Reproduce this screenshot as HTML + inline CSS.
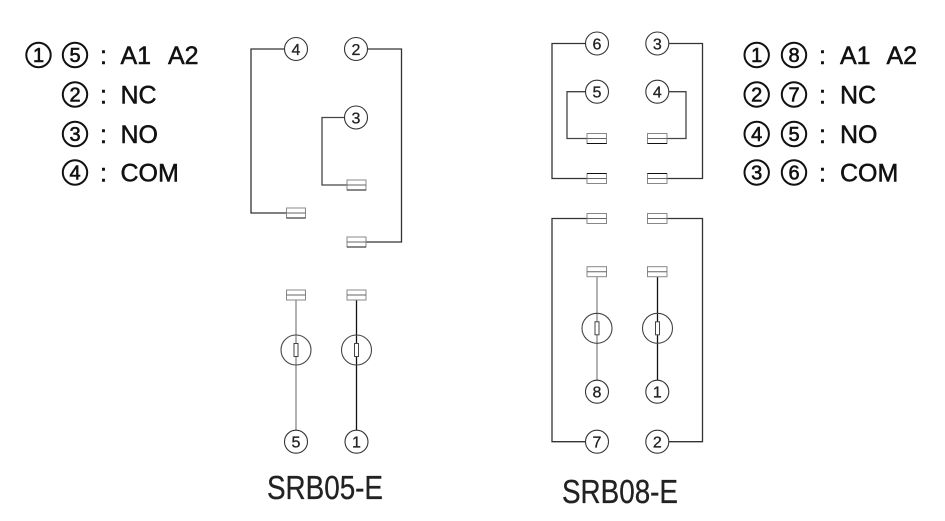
<!DOCTYPE html>
<html>
<head>
<meta charset="utf-8">
<style>
html,body{margin:0;padding:0;background:#fff;}
svg{display:block;}
text{font-family:"Liberation Sans",Arial,sans-serif;}
</style>
</head>
<body>
<svg width="945" height="521" viewBox="0 0 945 521" xmlns="http://www.w3.org/2000/svg">
<rect width="945" height="521" fill="#fff"/>

<!-- Left legend -->
<g fill="none" stroke="#111" stroke-width="2">
  <circle cx="38.5" cy="55" r="12.2"/>
  <circle cx="75" cy="55" r="12.2"/>
  <circle cx="75" cy="94.5" r="12.2"/>
  <circle cx="75" cy="134" r="12.2"/>
  <circle cx="75" cy="172.5" r="12.2"/>
</g>
<g font-size="20" fill="#111" stroke="#111" stroke-width="0.6" text-anchor="middle">
  <text x="38.5" y="62">1</text>
  <text x="75" y="62">5</text>
  <text x="75" y="101.5">2</text>
  <text x="75" y="141">3</text>
  <text x="75" y="179.5">4</text>
</g>
<g font-size="25" fill="#111" stroke="#111" stroke-width="0.5">
  <text x="100" y="64">:</text>
  <text x="120.5" y="64">A1</text>
  <text x="168" y="64">A2</text>
  <text x="100" y="103.5">:</text>
  <text x="120.5" y="103.5">NC</text>
  <text x="100" y="143">:</text>
  <text x="120.5" y="143">NO</text>
  <text x="100" y="181.5">:</text>
  <text x="120.5" y="181.5">COM</text>
</g>

<!-- Right legend -->
<g fill="none" stroke="#111" stroke-width="2">
  <circle cx="756.7" cy="55" r="12.2"/>
  <circle cx="794" cy="55" r="12.2"/>
  <circle cx="756.7" cy="94.5" r="12.2"/>
  <circle cx="794" cy="94.5" r="12.2"/>
  <circle cx="756.7" cy="134" r="12.2"/>
  <circle cx="794" cy="134" r="12.2"/>
  <circle cx="756.7" cy="172.5" r="12.2"/>
  <circle cx="794" cy="172.5" r="12.2"/>
</g>
<g font-size="20" fill="#111" stroke="#111" stroke-width="0.6" text-anchor="middle">
  <text x="756.7" y="62">1</text>
  <text x="794" y="62">8</text>
  <text x="756.7" y="101.5">2</text>
  <text x="794" y="101.5">7</text>
  <text x="756.7" y="141">4</text>
  <text x="794" y="141">5</text>
  <text x="756.7" y="179.5">3</text>
  <text x="794" y="179.5">6</text>
</g>
<g font-size="25" fill="#111" stroke="#111" stroke-width="0.5">
  <text x="819" y="64">:</text>
  <text x="840" y="64">A1</text>
  <text x="886.5" y="64">A2</text>
  <text x="819" y="103.5">:</text>
  <text x="840" y="103.5">NC</text>
  <text x="819" y="143">:</text>
  <text x="840" y="143">NO</text>
  <text x="819" y="181.5">:</text>
  <text x="840" y="181.5">COM</text>
</g>

<!-- ================= SRB05-E ================= -->
<g fill="none" stroke-width="1.3">
  <path d="M284.5 49 H251 V213 H286.5" stroke="#333"/>
  <path d="M344.5 117.5 H322 V185 H347" stroke="#444"/>
  <path d="M367.5 49 H401.5 V242 H366" stroke="#333"/>
  <path d="M296 300 V430" stroke="#888"/>
  <path d="M356.5 300 V430" stroke="#111"/>
</g>
<g fill="#fff" stroke="#333" stroke-width="1.1">
  <circle cx="296" cy="49" r="11.5"/>
  <circle cx="356" cy="49" r="11.5"/>
  <circle cx="356" cy="117.5" r="11.5"/>
  <circle cx="296" cy="441.7" r="11.5"/>
  <circle cx="356.5" cy="441.7" r="11.5"/>
</g>
<g font-size="16" fill="#222" stroke="#222" stroke-width="0.3" text-anchor="middle">
  <text x="296" y="54.8">4</text>
  <text x="356" y="54.8">2</text>
  <text x="356" y="123.3">3</text>
  <text x="296" y="447.5">5</text>
  <text x="356.5" y="447.5">1</text>
</g>
<g fill="#fff" stroke="#888" stroke-width="1">
  <rect x="286.5" y="208" width="19" height="10"/>
  <rect x="347" y="180" width="19" height="10"/>
  <rect x="347" y="237" width="19" height="10"/>
  <rect x="286.5" y="290" width="19" height="10"/>
  <rect x="347" y="290" width="19" height="10"/>
</g>
<g stroke="#666" stroke-width="1">
  <path d="M286.5 213 H305.5 M347 185 H366 M347 242 H366 M286.5 295 H305.5 M347 295 H366"/>
</g>
<g stroke="#111" stroke-width="1.1">
  <path d="M286.5 218 H305.5 M347 190 H366 M347 247 H366"/>
</g>
<g fill="none" stroke="#444" stroke-width="1.1">
  <circle cx="296" cy="350" r="15"/>
  <circle cx="356.5" cy="350" r="15"/>
</g>
<g fill="#fff" stroke="#444" stroke-width="1">
  <rect x="294" y="343.5" width="4" height="13"/>
  <rect x="354.5" y="343.5" width="4" height="13"/>
</g>
<text x="267" y="499" font-size="33" fill="#222" stroke="#222" stroke-width="0.3" textLength="116" lengthAdjust="spacingAndGlyphs">SRB05-E</text>

<!-- ================= SRB08-E ================= -->
<g fill="none" stroke-width="1.3">
  <path d="M585.5 43.5 H552 V178.5 H587" stroke="#333"/>
  <path d="M668.5 43.5 H702.5 V178.5 H667.5" stroke="#333"/>
  <path d="M585.5 91.7 H567 V138.5 H587" stroke="#444"/>
  <path d="M668.5 91.7 H686 V138.5 H667.5" stroke="#444"/>
  <path d="M587 218.5 H552 V441.7 H585.5" stroke="#333"/>
  <path d="M667.5 218.5 H702.5 V441.7 H668.5" stroke="#333"/>
  <path d="M597 276.7 V380" stroke="#888"/>
  <path d="M657.5 276.7 V380" stroke="#111"/>
</g>
<g fill="#fff" stroke="#333" stroke-width="1.1">
  <circle cx="597" cy="43.5" r="11.5"/>
  <circle cx="657.3" cy="43.5" r="11.5"/>
  <circle cx="597" cy="91.7" r="11.5"/>
  <circle cx="657.3" cy="91.7" r="11.5"/>
  <circle cx="597" cy="391.7" r="11.5"/>
  <circle cx="657.3" cy="391.7" r="11.5"/>
  <circle cx="597" cy="441.7" r="11.5"/>
  <circle cx="657.3" cy="441.7" r="11.5"/>
</g>
<g font-size="16" fill="#222" stroke="#222" stroke-width="0.3" text-anchor="middle">
  <text x="597" y="49.3">6</text>
  <text x="657.3" y="49.3">3</text>
  <text x="597" y="97.5">5</text>
  <text x="657.3" y="97.5">4</text>
  <text x="597" y="397.5">8</text>
  <text x="657.3" y="397.5">1</text>
  <text x="597" y="447.5">7</text>
  <text x="657.3" y="447.5">2</text>
</g>
<g fill="#fff" stroke="#888" stroke-width="1">
  <rect x="587" y="133.5" width="19.5" height="10"/>
  <rect x="647.5" y="133.5" width="19.5" height="10"/>
  <rect x="587" y="173.5" width="19.5" height="10"/>
  <rect x="647.5" y="173.5" width="19.5" height="10"/>
  <rect x="587" y="213.5" width="19.5" height="10"/>
  <rect x="647.5" y="213.5" width="19.5" height="10"/>
  <rect x="587" y="266.7" width="19.5" height="10"/>
  <rect x="647.5" y="266.7" width="19.5" height="10"/>
</g>
<g stroke="#666" stroke-width="1">
  <path d="M587 138.5 H606.5 M647.5 138.5 H667 M587 178.5 H606.5 M647.5 178.5 H667 M587 218.5 H606.5 M647.5 218.5 H667 M587 271.7 H606.5 M647.5 271.7 H667"/>
</g>
<g stroke="#111" stroke-width="1.1">
  <path d="M587 143.5 H606.5 M647.5 143.5 H667 M587 173.5 H606.5 M647.5 173.5 H667"/>
</g>
<g fill="none" stroke="#444" stroke-width="1.1">
  <circle cx="597" cy="328.3" r="15"/>
  <circle cx="657.5" cy="328.3" r="15"/>
</g>
<g fill="#fff" stroke="#444" stroke-width="1">
  <rect x="595" y="321.8" width="4" height="13"/>
  <rect x="655.5" y="321.8" width="4" height="13"/>
</g>
<text x="562" y="503" font-size="33" fill="#222" stroke="#222" stroke-width="0.3" textLength="116" lengthAdjust="spacingAndGlyphs">SRB08-E</text>
</svg>
</body>
</html>
